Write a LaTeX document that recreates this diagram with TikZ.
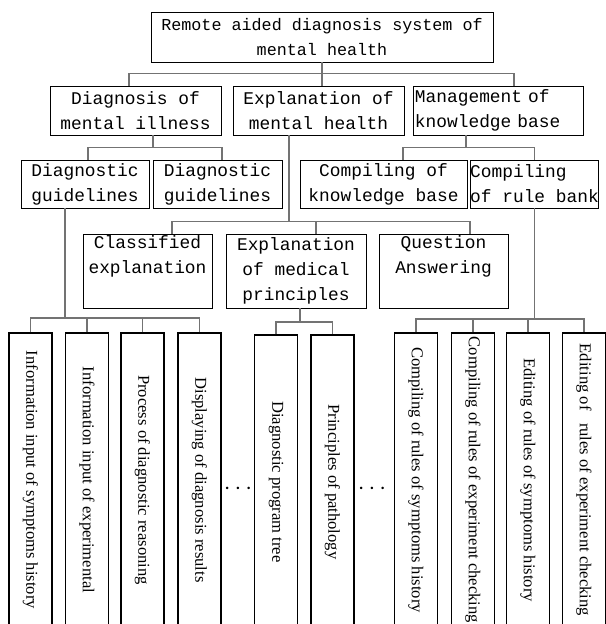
\documentclass[tikz,border=0pt]{standalone}
\usepackage{fontspec}
\usepackage{graphicx}
\setmainfont{Liberation Serif}
\newfontfamily\boxfont{Liberation Mono}

% text of the tall boxes, read from top to bottom
\newcommand{\vtext}[1]{\rotatebox{-90}{\makebox[7cm]{#1}}}

\begin{document}
\begin{tikzpicture} [
    x=0.025cm, y=-0.025cm,
    block/.style    = { rectangle, draw, line width=0.6pt, inner sep=0pt,
                        align=center,
                        font=\boxfont\fontsize{12.7}{17.8}\selectfont },
    leaf/.style     = { rectangle, draw, line width=0.8pt, inner sep=0pt,
                        minimum width=1.075cm, minimum height=7.35cm,
                        font=\fontsize{11.8}{14}\selectfont },
    link/.style     = { draw=black!55, line width=1.3pt },
    gap/.style      = { inner sep=0pt, font=\fontsize{16}{16}\selectfont },
  ]

  \useasboundingbox (0,0) rectangle (605,624);

  % Define nodes
  \node[block, minimum width=8.55cm, minimum height=1.25cm,
        font=\boxfont\fontsize{11.9}{17.8}\selectfont]
        (root) at (322,37) {Remote aided diagnosis system of\\mental health};

  \node[block, minimum width=4.275cm, minimum height=1.225cm] (diag) at (135.5,110.5) {Diagnosis of\\mental illness};
  \node[block, minimum width=4.275cm, minimum height=1.225cm] (expl) at (318.5,110.5) {Explanation of\\mental health};
  \node[block, minimum width=4.25cm, minimum height=1.225cm, text width=4.15cm, align=left]
        (mgmt) at (498,110.5) {Management of\\knowledge base};

  \node[block, minimum width=3.2cm, minimum height=1.2cm] (dg1) at (85,184) {Diagnostic\\guidelines};
  \node[block, minimum width=3.225cm, minimum height=1.2cm] (dg2) at (217.5,184) {Diagnostic\\guidelines};
  \node[block, minimum width=4.175cm, minimum height=1.2cm] (ckb) at (383.5,184) {Compiling of\\knowledge base};
  \node[block, minimum width=3.175cm, minimum height=1.2cm, align=left] (crb) at (534.5,184) {Compiling\\of rule bank};

  \node[block, minimum width=3.225cm, minimum height=1.85cm] (cls) at (147.5,271) {Classified\\explanation\\\strut};
  \node[block, minimum width=3.5cm, minimum height=1.85cm] (emp) at (296,271) {Explanation\\of medical\\principles};
  \node[block, minimum width=3.225cm, minimum height=1.85cm] (qa) at (443.5,271) {Question\\Answering\\\strut};

  \node[leaf] (i1) at (30.5,480) {\vtext{Information input of symptoms history}};
  \node[leaf] (i2) at (87,480) {\vtext{Information input of experimental}};
  \node[leaf] (i3) at (142.5,480) {\vtext{Process of diagnostic reasoning}};
  \node[leaf] (i4) at (199.5,480) {\vtext{Displaying of diagnosis results}};

  \node[leaf] (m1) at (276,482) {\vtext{Diagnostic program tree}};
  \node[leaf] (m2) at (332.5,482) {\vtext{Principles of pathology}};

  \node[leaf] (r1) at (416,480) {\vtext{Compiling of rules of symptoms history}};
  \node[leaf] (r2) at (473,480) {\vtext{Compiling of rules of experiment checking}};
  \node[leaf] (r3) at (528,480) {\vtext{Editing of rules of symptoms history}};
  \node[leaf] (r4) at (584,480) {\vtext{Editing of\ \ \ rules of experiment checking}};

  \node[gap] (dotsA) at (238,489) {$\cdots$};
  \node[gap] (dotsB) at (372,489) {$\cdots$};

  % connect the nodes
  \path [link] (root.south) -- ++(0,12);
  \path [link] (diag.north -| 129,0) -- ++(0,-12) -| (mgmt.north -| 514,0);
  \path [link] (expl.north -| 322,0) -- ++(0,-12);

  \path [link] (diag.south -| 153,0) -- ++(0,13);
  \path [link] (dg1.north -| 88,0) -- ++(0,-12) -| (dg2.north -| 222,0);
  \path [link] (mgmt.south -| 466,0) -- ++(0,13);
  \path [link] (ckb.north -| 403,0) -- ++(0,-12) -| (crb.north);

  \path [link] (expl.south -| 289,0) -- ++(0,87);
  \path [link] (cls.north -| 172,0) -- ++(0,-12) -| (qa.north -| 470,0);
  \path [link] (emp.north -| 316,0) -- ++(0,-12);

  \path [link] (dg1.south -| 65,0) -- ++(0,111);
  \path [link] (i1.north) -- ++(0,-14) -| (i4.north);
  \path [link] (i2.north) -- ++(0,-14);
  \path [link] (i3.north) -- ++(0,-14);

  \path [link] (emp.south -| 300,0) -- ++(0,15);
  \path [link] (m1.north) -- ++(0,-12) -| (m2.north);

  \path [link] (crb.south) -- ++(0,112);
  \path [link] (r1.north) -- ++(0,-13) -| (r4.north);
  \path [link] (r2.north) -- ++(0,-13);
  \path [link] (r3.north) -- ++(0,-13);
\end{tikzpicture}
\end{document}
